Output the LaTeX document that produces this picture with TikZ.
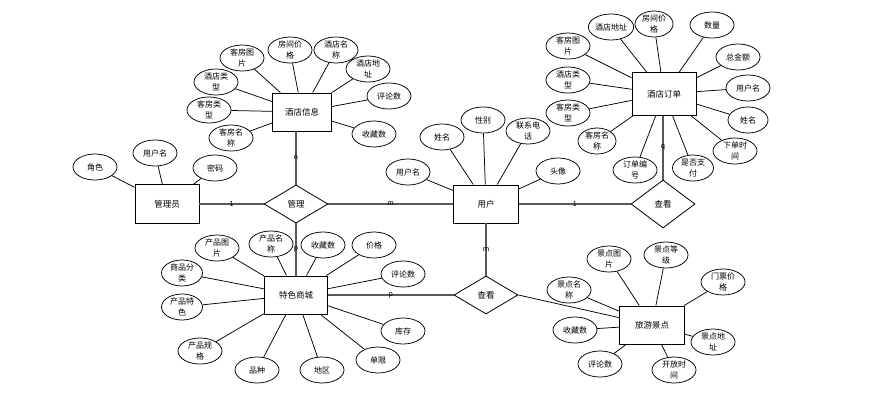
\documentclass[tikz,border=0pt]{standalone}
\usepackage{fontspec}
\setmainfont{Noto Sans CJK SC}
\usetikzlibrary{shapes.geometric}
\begin{document}
\begin{tikzpicture}[x=1pt,y=-1pt,
  entity/.style={draw, rectangle, line width=0.9pt, minimum width=64pt, minimum height=38pt,
    inner sep=0pt, font=\fontsize{8.5}{10}\selectfont},
  attr/.style={draw, ellipse, line width=0.75pt, minimum width=44pt, minimum height=26pt,
    inner sep=0pt, align=center, font=\fontsize{8}{10.5}\selectfont},
  rel/.style={draw, diamond, line width=0.8pt, minimum width=64pt, minimum height=38pt,
    inner sep=0pt, font=\fontsize{8.5}{10}\selectfont},
  aline/.style={line width=0.75pt},
  rline/.style={line width=1.1pt, draw=black!65},
  card/.style={font=\fontsize{7}{7}\selectfont, inner sep=0pt, text=black}]

\fill[white] (0,0) rectangle (891,402);
\useasboundingbox (0,0) rectangle (891,402);

% entities
\node[entity, minimum width=59pt] (hi) at (302,112) {酒店信息};
\node[entity, minimum height=43pt] (ho) at (664,94) {酒店订单};
\node[entity, minimum height=39pt] (adm) at (167,204) {管理员};
\node[entity, minimum width=65pt] (usr) at (486,204) {用户};
\node[entity, minimum width=63pt] (mall) at (296,295) {特色商城};
\node[entity, minimum width=65pt] (spot) at (652,325) {旅游景点};

% relationships
\node[rel] (mg) at (296,204) {管理};
\node[rel, minimum height=48pt] (ck1) at (663,204) {查看};
\node[rel] (ck2) at (486,295) {查看};

% relationship connectors
\draw[rline] (adm.east) -- node[card] {1} (mg.west);
\draw[rline] (mg.north) -- node[card] {n} (mg.north |- hi.south);
\draw[rline] (mg.south) -- node[card] {p} (mall.north);
\draw[rline] (mg.east) -- node[card] {m} (usr.west);
\draw[rline] (usr.east) -- node[card] {1} (ck1.west);
\draw[rline] (ck1.north) -- node[card] {q} (ck1.north |- ho.south);
\draw[rline] (usr.south) -- node[card] {m} (ck2.north);
\draw[rline] (mall.east) -- node[card] {p} (ck2.west);
\draw[aline] (ck2.east) -- (spot);

% 酒店信息 attributes
\node[attr] (hi1) at (242,58) {客房图\\片};
\node[attr] (hi2) at (290,50) {房间价\\格};
\node[attr] (hi3) at (336,50) {酒店名\\称};
\node[attr] (hi4) at (368,69) {酒店地\\址};
\node[attr] (hi5) at (389,96) {评论数};
\node[attr] (hi6) at (374,134) {收藏数};
\node[attr] (hi7) at (231,138) {客房名\\称};
\node[attr] (hi8) at (209,110) {客房类\\型};
\node[attr] (hi9) at (216,82) {酒店类\\型};
\foreach \a in {hi1,hi2,hi3,hi4,hi5,hi6,hi7,hi8,hi9} \draw[aline] (\a) -- (hi);

% 酒店订单 attributes
\node[attr] (ho1) at (611,27) {酒店地址};
\node[attr, minimum width=38pt] (ho2) at (654,24) {房间价\\格};
\node[attr] (ho3) at (712,25) {数量};
\node[attr] (ho4) at (568,46) {客房图\\片};
\node[attr] (ho5) at (738,57) {总金额};
\node[attr] (ho6) at (568,80) {酒店类\\型};
\node[attr] (ho7) at (748,88) {用户名};
\node[attr] (ho8) at (568,113) {客房类\\型};
\node[attr, minimum width=40pt] (ho9) at (748,120) {姓名};
\node[attr, minimum width=38pt] (ho10) at (597,141) {客房名\\称};
\node[attr] (ho11) at (735,151) {下单时\\间};
\node[attr] (ho12) at (635,170) {订单编\\号};
\node[attr, minimum width=41pt] (ho13) at (693,168) {是否支\\付};
\foreach \a in {ho1,ho2,ho3,ho4,ho5,ho6,ho7,ho8,ho9,ho10,ho11,ho12,ho13} \draw[aline] (\a) -- (ho);

% 管理员 attributes
\node[attr] (ad1) at (95,167) {角色};
\node[attr] (ad2) at (155,153) {用户名};
\node[attr] (ad3) at (215,168) {密码};
\foreach \a in {ad1,ad2,ad3} \draw[aline] (\a) -- (adm);

% 用户 attributes
\node[attr] (us1) at (442,137) {姓名};
\node[attr] (us2) at (483,120) {性别};
\node[attr] (us3) at (528,131) {联系电\\话};
\node[attr] (us4) at (408,172) {用户名};
\node[attr] (us5) at (558,171) {头像};
\foreach \a in {us1,us2,us3,us4,us5} \draw[aline] (\a) -- (usr);

% 特色商城 attributes
\node[attr] (ma1) at (217,248) {产品图\\片};
\node[attr] (ma2) at (271,244) {产品名\\称};
\node[attr] (ma3) at (323,245) {收藏数};
\node[attr] (ma4) at (374,245) {价格};
\node[attr, minimum width=41pt] (ma5) at (182,273) {商品分\\类};
\node[attr] (ma6) at (403,274) {评论数};
\node[attr, minimum width=41pt] (ma7) at (182,307) {产品特\\色};
\node[attr] (ma8) at (403,331) {库存};
\node[attr] (ma9) at (200,351) {产品规\\格};
\node[attr] (ma10) at (378,360) {单限};
\node[attr] (ma11) at (257,370) {品种};
\node[attr] (ma12) at (322,370) {地区};
\foreach \a in {ma1,ma2,ma3,ma4,ma5,ma6,ma7,ma8,ma9,ma10,ma11,ma12} \draw[aline] (\a) -- (mall);

% 旅游景点 attributes
\node[attr] (sp1) at (609,259) {景点图\\片};
\node[attr] (sp2) at (666,255) {景点等\\级};
\node[attr] (sp3) at (723,282) {门票价\\格};
\node[attr] (sp4) at (569,290) {景点名\\称};
\node[attr] (sp5) at (575,330) {收藏数};
\node[attr] (sp6) at (713,342) {景点地\\址};
\node[attr] (sp7) at (600,364) {评论数};
\node[attr] (sp8) at (674,370) {开放时\\间};
\foreach \a in {sp1,sp2,sp3,sp4,sp5,sp6,sp7,sp8} \draw[aline] (\a) -- (spot);

\end{tikzpicture}
\end{document}
